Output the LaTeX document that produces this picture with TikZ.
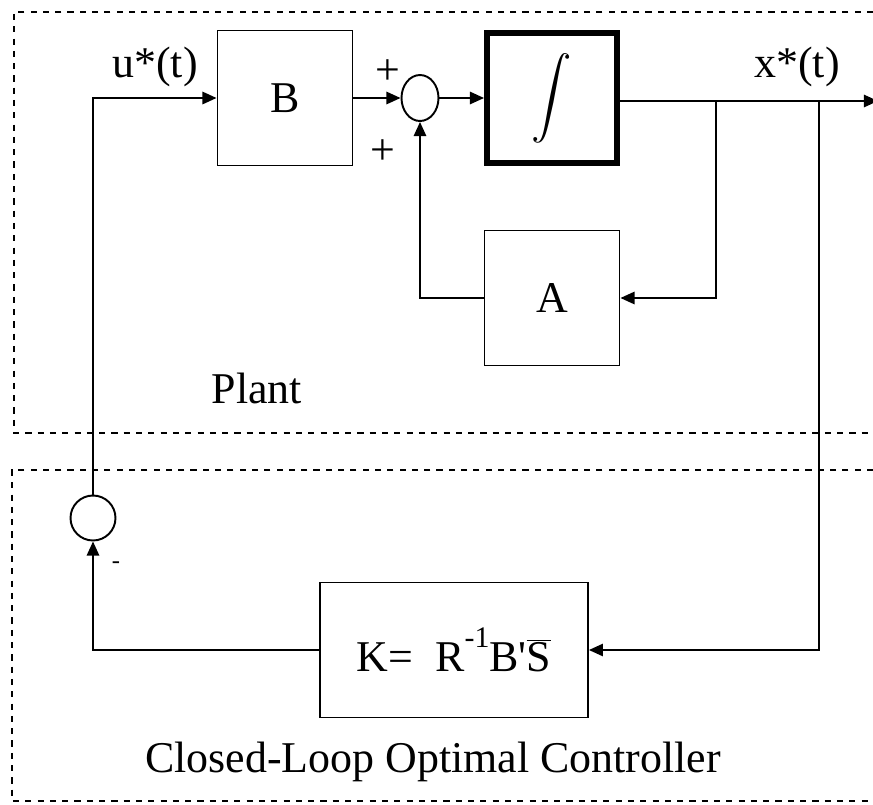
\documentclass[tikz,border=0pt]{standalone}
\usepackage{fontspec}
\setmainfont{Liberation Serif}
\usetikzlibrary{arrows.meta,shapes.geometric}

\begin{document}
\begin{tikzpicture}[x=0.02cm,y=-0.02cm,
  every node/.style={font=\fontsize{25}{30}\selectfont},
  blk/.style={draw,line width=1.1pt,minimum width=2.7cm,minimum height=2.7cm,inner sep=0pt},
  sumnode/.style={draw,line width=1.1pt,inner sep=0pt},
  frame/.style={line width=1.2pt,dash pattern=on 3.5pt off 3.5pt},
  arr/.style={line width=1.1pt,-{Triangle[length=8pt,width=7pt]}},
  wire/.style={line width=1.1pt}]
\useasboundingbox (0,0) rectangle (873,805);
% frames
\draw[frame] (873,12) -- (14,12) -- (14,433) -- (873,433);
\draw[frame] (873,470) -- (12,470) -- (12,801) -- (873,801);
% blocks
\node[blk] (B) at (285,98) {B};
\node[blk,line width=3.4pt,minimum width=2.6cm,minimum height=2.6cm] (I) at (552,98) {\scalebox{2.3}{$\displaystyle\int$}};
\node[blk] (A) at (552,298) {A};
\node[blk,minimum width=5.36cm] (K) at (454,650) {K=\ \ R\raisebox{0.55em}{\fontsize{17}{17}\selectfont -1}B\textquotesingle$\overline{\mbox{S}}$};
\node[sumnode,ellipse,minimum width=0.74cm,minimum height=0.92cm] (S1) at (420,98) {};
\node[sumnode,circle,minimum size=0.9cm] (S2) at (93,518) {};
% points
\coordinate (xout) at (878,101);
\coordinate (br1) at (716,101);
\coordinate (br2) at (819,101);
% connections
\draw[arr] (S2.north) |- (B.west);
\draw[arr] (B.east) -- (S1.west);
\draw[arr] (S1.east) -- (I.west);
\draw[arr] (I.east |- xout) -- (xout);
\draw[arr] (br1) |- (A.east);
\draw[arr] (A.west) -| (S1.south);
\draw[arr] (br2) |- (K.east);
\draw[arr] (K.west) -| (S2.south);
% labels
\node (u) at (155,67) {u*(t)};
\node (x) at (797,67) {x*(t)};
\node (p1) at (388,72) {+};
\node (p2) at (383,152) {+};
\node[font=\fontsize{14}{14}\selectfont] (m) at (116,565) {-};
\node (plant) at (257,388) {Plant};
\node (ctrl) at (433,762) {Closed-Loop Optimal Controller};
\end{tikzpicture}
\end{document}
